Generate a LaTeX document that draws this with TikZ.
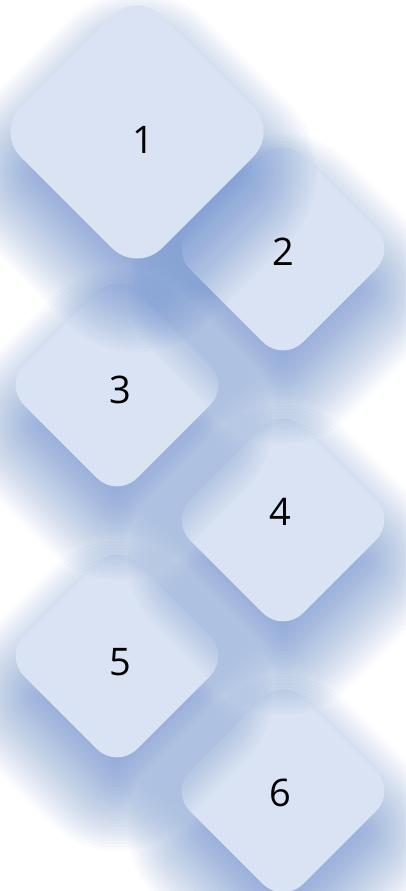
\documentclass[tikz,border=0pt]{standalone}
\usepackage{fontspec}
\setmainfont{Open Sans}
\definecolor{dfill}{HTML}{DAE3F3}
\definecolor{dshadow}{HTML}{4472C4}
\tikzset{
  dshape/.style={fill=dfill},
  shlayer/.style={fill=dshadow, fill opacity=0.028},
  lbl/.style={font=\fontsize{38}{38}\selectfont, text=black, inner sep=0pt}
}
% #1 cx, #2 cy, #3 half diagonal, #4 corner cut
\newcommand\mydiam[4]{%
  \foreach \dd in {-50,-45,...,80}{%
    \pgfmathsetmacro\hh{#3+\dd}%
    \pgfmathsetmacro\rr{max(6,#4+\dd*0.8)}%
    \fill[shlayer, rounded corners=\rr pt]
      (#1+\hh/2,#2+40-\hh/2) -- (#1+\hh,#2+40) -- (#1,#2+40+\hh)
      -- (#1-\hh,#2+40) -- (#1,#2+40-\hh) -- cycle;
  }
  \fill[dshape, rounded corners=#4 pt]
    (#1+#3/2,#2-#3/2) -- (#1+#3,#2) -- (#1,#2+#3)
    -- (#1-#3,#2) -- (#1,#2-#3) -- cycle;
}
\begin{document}
\begin{tikzpicture}[x=1pt,y=-1pt]
  \useasboundingbox (0,0) rectangle (405,891);
  \fill[white] (0,0) rectangle (405,891);
  \mydiam{283}{791}{113}{28}
  \mydiam{117}{656}{113}{28}
  \mydiam{283}{520}{113}{28}
  \mydiam{117}{385}{113}{28}
  \mydiam{283}{249}{113}{28}
  \mydiam{137}{132}{141}{35}
  \node[lbl] (n1) at (143,140) {1};
  \node[lbl] (n2) at (283,252) {2};
  \node[lbl] (n3) at (120,390) {3};
  \node[lbl] (n4) at (280,512) {4};
  \node[lbl] (n5) at (120,662) {5};
  \node[lbl] (n6) at (280,793) {6};
\end{tikzpicture}
\end{document}
